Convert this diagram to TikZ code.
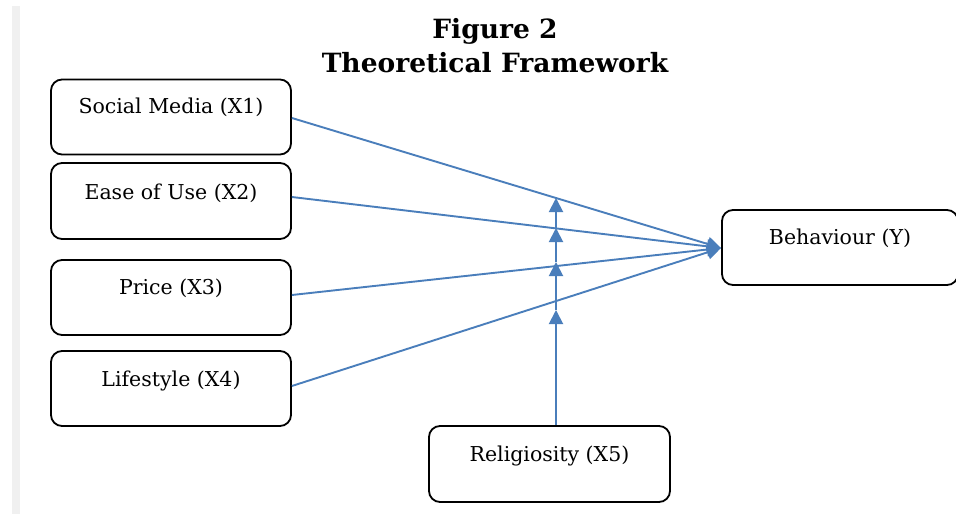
\documentclass[tikz,border=0pt]{standalone}
\usepackage{fontspec}
\setmainfont{DejaVu Serif}
\usetikzlibrary{arrows.meta}
\definecolor{arrblue}{HTML}{4A7EBB}
\definecolor{stripgrey}{HTML}{F0F0F0}
\tikzset{
  box/.style={draw=black, line width=1.8pt, rounded corners=11pt, minimum width=240pt, minimum height=75pt, inner sep=0pt},
  boxtext/.style={font=\fontsize{20.5}{24}\selectfont},
  conn/.style={draw=arrblue, line width=1.9pt, -{Triangle[length=14pt,width=14pt]}},
  titletext/.style={font=\bfseries\fontsize{26.5}{30}\selectfont, anchor=base}
}
\begin{document}
\begin{tikzpicture}[x=1pt,y=-1pt]
\useasboundingbox (0,0) rectangle (956,514);
\fill[stripgrey] (12,6) rectangle (20,514);
\node[titletext] (t1) at (495,38) {Figure 2};
\node[titletext] (t2) at (495,72) {Theoretical Framework};
\node[box, label={[boxtext, anchor=base, yshift=-35pt]north:Social Media (X1)}] (x1) at (171,117) {};
\node[box, minimum height=76pt, label={[boxtext, anchor=base, yshift=-37pt]north:Ease of Use (X2)}] (x2) at (171,201) {};
\node[box, label={[boxtext, anchor=base, yshift=-35pt]north:Price (X3)}] (x3) at (171,297.5) {};
\node[box, label={[boxtext, anchor=base, yshift=-36pt]north:Lifestyle (X4)}] (x4) at (171,388.5) {};
\node[box, minimum width=236pt, label={[boxtext, anchor=base, yshift=-35pt]north:Behaviour (Y)}] (y) at (840,247.5) {};
\node[box, minimum width=241pt, minimum height=76pt, label={[boxtext, anchor=base, yshift=-36pt]north:Religiosity (X5)}] (x5) at (549.5,464) {};
\coordinate (tip) at (721,248);
\coordinate (m1) at (556,198);
\coordinate (m2) at (556,228);
\coordinate (m3) at (556,262);
\coordinate (m4) at (556,310);
\draw[conn] (x1.east |- 0,118) -- (tip);
\draw[conn] (x2.east |- 0,197) -- (tip);
\draw[conn] (x3.east |- 0,295) -- (tip);
\draw[conn] (x4.east |- 0,386) -- (tip);
\draw[conn] (x5.north -| m4) -- (m4);
\draw[conn] (m4) -- (m3);
\draw[conn] (m3) -- (m2);
\draw[conn] (m2) -- (m1);
\end{tikzpicture}
\end{document}
